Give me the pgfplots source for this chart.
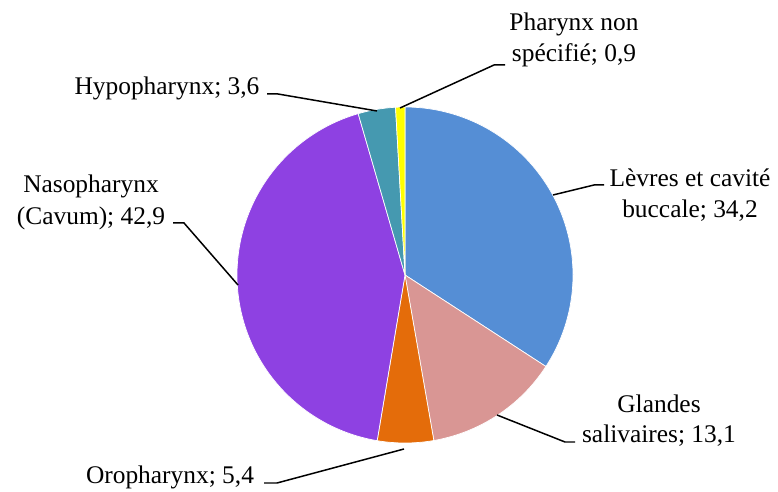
\documentclass[border=0pt]{standalone}
\usepackage{fontspec}
\setmainfont{Liberation Serif}
\usepackage{pgfplots}
\pgfplotsset{compat=1.18}

\definecolor{cLevres}{HTML}{558ED5}
\definecolor{cGlandes}{HTML}{D99694}
\definecolor{cOro}{HTML}{E46C0A}
\definecolor{cNaso}{HTML}{8E41E2}
\definecolor{cHypo}{HTML}{4599B0}
\definecolor{cPhar}{HTML}{FFFF00}

\begin{document}
\begin{tikzpicture}
% shares (per cent), clockwise from the top
\def\vA{34.2}\def\vB{13.1}\def\vC{5.4}\def\vD{42.9}\def\vE{3.6}\def\vF{0.9}
\pgfmathsetmacro\tot{\vA+\vB+\vC+\vD+\vE+\vF}
\pgfmathsetmacro\k{360/\tot}
\pgfmathsetmacro\aA{90}
\pgfmathsetmacro\aB{\aA-\k*\vA}
\pgfmathsetmacro\aC{\aB-\k*\vB}
\pgfmathsetmacro\aD{\aC-\k*\vC}
\pgfmathsetmacro\aE{\aD-\k*\vD}
\pgfmathsetmacro\aF{\aE-\k*\vE}
\pgfmathsetmacro\aG{\aF-\k*\vF}

\begin{axis}[
  width=778bp, height=492bp, scale only axis,
  xmin=0, xmax=778, ymin=0, ymax=492,
  hide axis, clip=false,
  every axis plot/.append style={draw=white, line width=0.7pt, samples=90, smooth},
]
\path (axis cs:0,0) rectangle (axis cs:778,492);

\addplot[fill=cLevres,  domain=\aB:\aA] ({405+168*cos(x)},{217+168*sin(x)}) -- (axis cs:405,217) -- cycle;
\addplot[fill=cGlandes, domain=\aC:\aB] ({405+168*cos(x)},{217+168*sin(x)}) -- (axis cs:405,217) -- cycle;
\addplot[fill=cOro,     domain=\aD:\aC] ({405+168*cos(x)},{217+168*sin(x)}) -- (axis cs:405,217) -- cycle;
\addplot[fill=cNaso,    domain=\aE:\aD] ({405+168*cos(x)},{217+168*sin(x)}) -- (axis cs:405,217) -- cycle;
\addplot[fill=cHypo,    domain=\aF:\aE] ({405+168*cos(x)},{217+168*sin(x)}) -- (axis cs:405,217) -- cycle;
\addplot[fill=cPhar,    domain=\aG:\aF] ({405+168*cos(x)},{217+168*sin(x)}) -- (axis cs:405,217) -- cycle;

% leader lines
\begin{scope}[black, line width=1.5pt]
\draw (axis cs:400,384) -- (axis cs:494,427) -- (axis cs:505,427);
\draw (axis cs:267,398) -- (axis cs:278,398) -- (axis cs:377,381);
\draw (axis cs:553,297) -- (axis cs:594,307) -- (axis cs:604,307);
\draw (axis cs:173,269) -- (axis cs:184,269) -- (axis cs:238,207);
\draw (axis cs:497,77) -- (axis cs:565,50) -- (axis cs:575,50);
\draw (axis cs:404,43) -- (axis cs:277,9) -- (axis cs:264,9);
\end{scope}

% labels
\begin{scope}[every node/.style={font=\rmfamily\fontsize{25.5}{31}\selectfont, inner sep=0pt, anchor=base}]
\node at (axis cs:574,461) {Pharynx non};
\node at (axis cs:574,430) {spécifié; 0,9};
\node at (axis cs:167,397) {Hypopharynx; 3,6};
\node at (axis cs:690,305) {Lèvres et cavité};
\node at (axis cs:690,274) {buccale; 34,2};
\node at (axis cs:91,299) {Nasopharynx};
\node at (axis cs:91,267) {(Cavum); 42,9};
\node at (axis cs:659,79) {Glandes};
\node at (axis cs:659,49) {salivaires; 13,1};
\node at (axis cs:170,9) {Oropharynx; 5,4};
\end{scope}
\end{axis}
\end{tikzpicture}
\end{document}
